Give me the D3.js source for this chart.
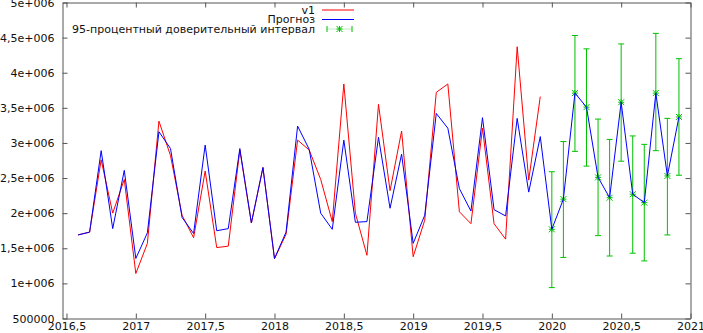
<!DOCTYPE html>
<html><head><meta charset="utf-8">
<script src="https://cdn.jsdelivr.net/npm/d3@7"></script>
<style>body{margin:0;background:#fff}svg{display:block}text{font-family:"DejaVu Sans",sans-serif}</style>
</head><body><svg id="c" width="703" height="333"></svg>
<script>
// ---- data (values in millions) ----
const startYear = 2016, startMonth = 8; // first observation: Aug 2016
const actualV1 = [1.69,1.73,2.76,2.00,2.48,
  1.14,1.57,3.31,2.82,1.97,1.65,2.60,1.51,1.53,2.90,1.86,2.65,
  1.35,1.70,3.04,2.90,2.48,1.88,3.84,2.00,1.40,3.55,2.32,3.17,
  1.38,1.90,3.72,3.84,2.02,1.85,3.21,1.85,1.63,4.37,2.47,3.66];
const forecast = [1.69,1.73,2.89,1.78,2.61,
  1.355,1.72,3.16,2.92,1.94,1.71,2.97,1.75,1.78,2.92,1.86,2.65,
  1.355,1.73,3.24,2.91,2.00,1.77,3.04,1.87,1.88,3.08,2.07,2.84,
  1.57,1.97,3.42,3.21,2.35,2.03,3.36,2.05,1.96,3.35,2.30,3.09,
  1.77,2.20,3.71,3.51,2.51,2.22,3.58,2.27,2.15,3.71,2.53,3.37];
const ciStartIndex = 41; // Jan 2020
const ciLower = [0.94,1.37,2.88,2.67,1.68,1.39,2.74,1.43,1.32,2.89,1.69,2.54];
const ciUpper = [2.59,3.02,4.53,4.34,3.34,3.05,4.41,3.10,2.98,4.56,3.35,4.20];
const xTicks = [2016.5,2017,2017.5,2018,2018.5,2019,2019.5,2020,2020.5,2021];
const xTickLabels = ["2016,5","2017","2017,5","2018","2018,5","2019","2019,5","2020","2020,5","2021"];
const yTicks = [500000,1000000,1500000,2000000,2500000,3000000,3500000,4000000,4500000,5000000];
const yTickLabels = ["500000","1e+006","1,5e+006","2e+006","2,5e+006","3e+006","3,5e+006","4e+006","4,5e+006","5e+006"];
const seriesNames = ["v1","Прогноз","95-процентный доверительный интервал"];
const colors = ["#ff0000","#0000ff","#00c000"];

const t = i => startYear + (startMonth - 1 + i) / 12;
const L = 62.5, R = 690.5, T = 2.5, B = 318.5;
const x = d3.scaleLinear().domain([2016.4712, 2021]).range([L, R]);
const y = d3.scaleLinear().domain([500000, 5000000]).range([B, T]);
const svg = d3.select("#c");
const fs = "11px";

// axes
const ax = (g, a) => g.call(a).call(s => s.selectAll("path.domain").attr("stroke","#555"))
  .call(s => s.selectAll(".tick line").attr("stroke","#555"))
  .call(s => s.selectAll("text").attr("fill","#111").style("font-size",fs).style("font-family","DejaVu Sans"));
ax(svg.append("g").attr("transform",`translate(0,${B})`),
  d3.axisBottom(x).tickValues(xTicks).tickFormat((d,i)=>xTickLabels[i]).tickSize(-5).tickSizeOuter(0).tickPadding(4));
ax(svg.append("g").attr("transform",`translate(0,${T})`),
  d3.axisTop(x).tickValues(xTicks).tickFormat("").tickSize(-5).tickSizeOuter(0));
ax(svg.append("g").attr("transform",`translate(${L},0)`),
  d3.axisLeft(y).tickValues(yTicks).tickFormat((d,i)=>yTickLabels[i]).tickSize(-5).tickSizeOuter(0).tickPadding(8));
ax(svg.append("g").attr("transform",`translate(${R},0)`),
  d3.axisRight(y).tickValues(yTicks).tickFormat("").tickSize(-5).tickSizeOuter(0));

// error bars
const ci = ciLower.map((lo,i)=>({x:t(ciStartIndex+i), lo:lo*1e6, hi:ciUpper[i]*1e6, v:forecast[ciStartIndex+i]*1e6}));
const eg = svg.append("g").attr("stroke",colors[2]).attr("stroke-width",1).attr("fill","none");
ci.forEach(d=>{
  const cx = x(d.x);
  eg.append("path").attr("d",`M${cx},${y(d.lo)}V${y(d.hi)}M${cx-3},${y(d.lo)}H${cx+3}M${cx-3},${y(d.hi)}H${cx+3}`);
});
const star = (cx,cy,r)=>`M${cx-r},${cy}H${cx+r}M${cx},${cy-r}V${cy+r}M${cx-r},${cy-r}L${cx+r},${cy+r}M${cx-r},${cy+r}L${cx+r},${cy-r}`;

// lines
const line = d3.line().x(d=>x(d.x)).y(d=>y(d.v));
svg.append("path").datum(actualV1.map((v,i)=>({x:t(i),v:v*1e6})))
  .attr("d",line).attr("fill","none").attr("stroke",colors[0]).attr("stroke-width",1);
svg.append("path").datum(forecast.map((v,i)=>({x:t(i),v:v*1e6})))
  .attr("d",line).attr("fill","none").attr("stroke",colors[1]).attr("stroke-width",1);
ci.forEach(d=>{ eg.append("path").attr("d",star(x(d.x),y(d.v),3)); });

// legend
const lg = svg.append("g");
const rows = [10,19.5,29];
seriesNames.forEach((n,i)=>{
  lg.append("text").attr("x",315).attr("y",rows[i]).attr("dy","0.35em").attr("text-anchor","end")
    .style("font-size",fs).attr("fill","#111").text(n);
});
lg.append("line").attr("x1",322).attr("x2",354).attr("y1",rows[0]).attr("y2",rows[0]).attr("stroke",colors[0]);
lg.append("line").attr("x1",322).attr("x2",354).attr("y1",rows[1]).attr("y2",rows[1]).attr("stroke",colors[1]);
lg.append("path").attr("d",`M327,${rows[2]-3}V${rows[2]+3}M352,${rows[2]-3}V${rows[2]+3}`+star(339.5,rows[2],3))
  .attr("stroke",colors[2]).attr("fill","none");
lg.append("line").attr("x1",327).attr("x2",352).attr("y1",rows[2]).attr("y2",rows[2]).attr("stroke",colors[2]).attr("stroke-opacity",0.25);
</script></body></html>
